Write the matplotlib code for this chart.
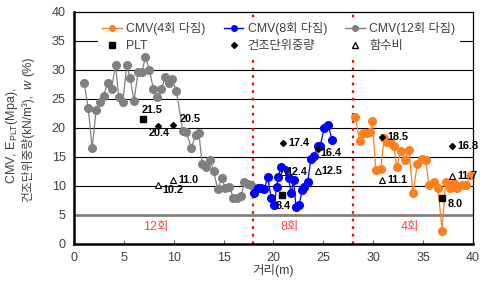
import matplotlib
matplotlib.use("Agg")
import matplotlib.pyplot as plt
from matplotlib.lines import Line2D

plt.rcParams["font.family"] = ["Liberation Sans", "Noto Sans CJK KR", "DejaVu Sans"]
plt.rcParams["mathtext.default"] = "regular"
plt.rcParams["axes.unicode_minus"] = False

# --- CMV, 12 passes (gray) ---
X12 = [1.03, 1.43, 1.83, 2.23, 2.63, 2.97, 3.37, 3.77, 4.17, 4.5, 4.9, 5.3, 5.63,
       6.03, 6.43, 6.83, 7.17, 7.57, 7.97, 8.37, 8.77, 9.17, 9.5, 9.83, 10.27,
       10.93, 11.27, 11.77, 12.2, 12.53, 12.87, 13.27, 13.67, 14.0, 14.43, 14.83,
       15.17, 15.6, 16.0, 16.37, 16.77, 17.1, 17.43, 17.77]
Y12 = [27.7, 23.5, 16.5, 23.1, 24.5, 25.5, 27.7, 26.7, 30.8, 25.4, 24.5, 30.8, 28.6,
       24.7, 29.6, 29.6, 32.3, 30.0, 26.7, 25.4, 26.7, 28.8, 27.8, 28.4, 26.4,
       19.4, 19.3, 16.6, 18.7, 19.1, 13.7, 13.3, 14.4, 12.6, 9.4, 11.4,
       9.6, 9.8, 7.9, 7.9, 8.2, 10.7, 10.3, 10.2]

# --- CMV, 8 passes (blue) ---
X8 = [18.1, 18.43, 18.77, 19.1, 19.43, 19.77, 20.1, 20.33, 20.5, 20.77, 21.2, 21.53,
      21.77, 22.03, 22.27, 22.6, 22.87, 23.1, 23.43, 23.77, 24.1, 24.43, 24.67,
      25.1, 25.5, 25.87]
Y8 = [8.7, 9.7, 9.6, 9.4, 11.6, 8.0, 6.7, 9.9, 11.6, 13.3, 12.8, 11.4,
      8.7, 11.0, 6.4, 6.7, 9.3, 9.9, 10.6, 14.6, 15.1, 16.8, 16.8,
      19.9, 20.5, 18.0]

# --- CMV, 4 passes (orange) ---
X4 = [28.2, 28.67, 29.0, 29.43, 29.67, 29.93, 30.27, 30.77, 31.1, 31.43, 31.77, 32.1,
      32.37, 32.77, 33.17, 33.6, 34.0, 34.43, 34.87, 35.27, 35.6, 36.1, 36.5, 36.93,
      37.27, 37.67, 38.1, 38.43, 38.93, 39.33, 39.8]
Y4 = [21.8, 17.8, 19.1, 19.2, 19.3, 21.2, 12.8, 13.0, 18.2, 17.6, 17.4, 16.9,
      13.2, 16.0, 14.5, 16.2, 8.7, 13.7, 14.7, 14.5, 10.2, 10.7, 9.6, 2.3,
      10.7, 9.6, 10.5, 9.6, 10.2, 10.2, 11.9]

# --- point tests ---
PLT_X = [6.93, 20.87, 36.93]
PLT_Y = [21.5, 8.4, 8.0]
DRY_X = [8.43, 9.93, 20.93, 24.43, 30.87, 37.93]
DRY_Y = [20.4, 20.5, 17.4, 16.4, 18.5, 16.8]
W_X = [8.43, 9.93, 20.93, 24.43, 30.87, 37.93]
W_Y = [10.2, 11.0, 12.4, 12.5, 11.1, 11.7]

ZONE_X = [8.2, 21.6, 33.7]
ZONE_LABELS = ["12회", "8회", "4회"]
SPLITS = [18, 28]

# label placement (offset in points, ha, va)
PLT_POS = [((-1, 3), "left", "bottom"), ((1, -4), "center", "top"), ((4, -5), "left", "center")]
DRY_POS = [((1, -2), "center", "top"), ((5, 4), "left", "center"), ((4, 0), "left", "center"),
           ((2, -3), "left", "center"), ((4, 0), "left", "center"), ((4, 0), "left", "center")]
W_POS = [((3, -4), "left", "center"), ((4, 0), "left", "center"), ((3, 0), "left", "center"),
         ((3, 0), "left", "center"), ((4, 0), "left", "center"), ((4, 0), "left", "center")]

C4, C8, C12 = "#ff7f1e", "#0000ff", "#808080"
TXT = "#404040"

fig = plt.figure(figsize=(4.8, 2.83), dpi=100)
ax = fig.add_axes([0.154, 0.138, 0.831, 0.820])

for y in [10, 15, 20, 25, 30, 35]:
    ax.axhline(y, color="black", lw=0.8, zorder=1)
ax.axhline(5, color="#808080", lw=2.0, zorder=1)
for xs in SPLITS:
    ax.axvline(xs, color="#ff0000", lw=1.6, ls=(0, (1.2, 2.2)), zorder=2)

ax.plot(X12, Y12, "-o", color=C12, ms=5.5, lw=0.9, zorder=3)
ax.plot(X8, Y8, "-o", color=C8, ms=5.5, lw=0.9, zorder=4)
ax.plot(X4, Y4, "-o", color=C4, ms=5.5, lw=0.9, zorder=4)

ax.plot(PLT_X, PLT_Y, "s", color="black", ms=5, zorder=6)
ax.plot(DRY_X, DRY_Y, "D", color="black", ms=3, zorder=6)
ax.plot(W_X, W_Y, "^", mfc="white", mec="black", mew=0.8, ms=4, zorder=6)

for xs, ys, pos in [(PLT_X, PLT_Y, PLT_POS), (DRY_X, DRY_Y, DRY_POS), (W_X, W_Y, W_POS)]:
    for x, y, (off, ha, va) in zip(xs, ys, pos):
        ax.annotate(f"{y:.1f}", (x, y), xytext=off, textcoords="offset points",
                    ha=ha, va=va, fontsize=7.8, fontweight="bold", color="black",
                    zorder=7, annotation_clip=False)

for x, lab in zip(ZONE_X, ZONE_LABELS):
    ax.text(x, 2.9, lab, color="#ff4040", fontsize=9, ha="center", va="center")

ax.set_xlim(0, 40)
ax.set_ylim(0, 40)
ax.set_xticks(range(0, 41, 5))
ax.set_yticks(range(0, 41, 5))
ax.tick_params(axis="x", direction="in", length=3, color="#606060", labelsize=9,
               labelcolor=TXT, pad=6)
ax.tick_params(axis="y", length=0, labelsize=9, labelcolor=TXT, pad=6)
for s in ["left", "bottom"]:
    ax.spines[s].set_linewidth(1.8)
for s in ["top", "right"]:
    ax.spines[s].set_linewidth(0.9)

ax.set_xlabel("거리(m)", fontsize=9, color=TXT, labelpad=0)

# y label: two rotated lines, second one built from pieces (italic w)
fig.text(12 / 480, 1 - 136 / 283, "CMV, E$_{PLT}$(Mpa),", rotation=90,
         ha="center", va="center", fontsize=9, color=TXT)
ya = fig.text(28 / 480, 1 - 202 / 283, "건조단위중량(kN/m³),", rotation=90,
              ha="center", va="bottom", fontsize=8.5, color=TXT)
yw = ax.annotate("w", xy=(0.5, 1), xycoords=ya, xytext=(0, 3.5), textcoords="offset points",
                 rotation=90, ha="center", va="bottom", fontsize=9, color=TXT,
                 style="italic", annotation_clip=False)
ax.annotate("(%)", xy=(0.5, 1), xycoords=yw, xytext=(0, 3), textcoords="offset points",
            rotation=90, ha="center", va="bottom", fontsize=9, color=TXT,
            annotation_clip=False)

handles = [
    Line2D([], [], color=C4, marker="o", ms=4, lw=1),
    Line2D([], [], color="black", marker="s", ms=4, ls="none"),
    Line2D([], [], color=C8, marker="o", ms=4, lw=1),
    Line2D([], [], color="black", marker="D", ms=3, ls="none"),
    Line2D([], [], color=C12, marker="o", ms=4, lw=1),
    Line2D([], [], mfc="white", mec="black", marker="^", ms=4, ls="none"),
]
labels = ["CMV(4회 다짐)", "PLT", "CMV(8회 다짐)", "건조단위중량", "CMV(12회 다짐)", "함수비"]
leg = ax.legend(handles, labels, ncol=3, loc="upper left", bbox_to_anchor=(0.045, 1.0),
                fontsize=8.8, handlelength=1.6, handletextpad=0.35, columnspacing=1.5,
                labelspacing=0.4, frameon=True, fancybox=False, borderpad=0.35)
leg.get_frame().set_edgecolor("none")
leg.get_frame().set_facecolor("white")
leg.get_frame().set_alpha(1)
for t in leg.get_texts():
    t.set_color(TXT)
leg.set_zorder(2.5)

fig.savefig("out.png", dpi=100)
